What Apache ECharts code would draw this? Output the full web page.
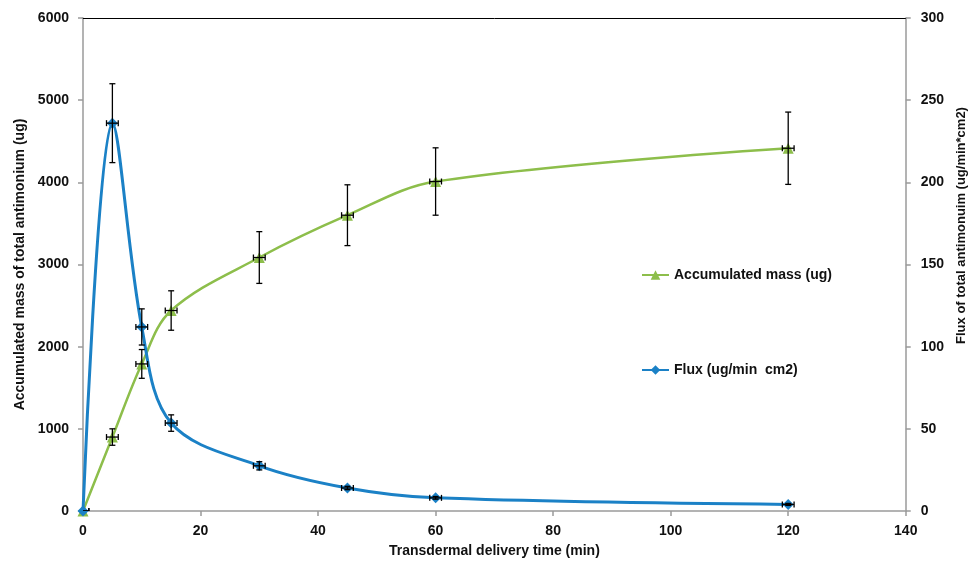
<!DOCTYPE html>
<html>
<head>
<meta charset="utf-8">
<script src="https://cdn.jsdelivr.net/npm/echarts@6/dist/echarts.min.js"></script>
<style>
  html, body { margin: 0; padding: 0; background: #fff; }
  #chart { width: 976px; height: 564px; }
</style>
</head>
<body>
<div id="chart"></div>
<script>
// 时间点 (min)
var times = [0, 5, 10, 15, 30, 45, 60, 120];
var timeErr = [1, 1, 1, 1, 1, 1, 1, 1];
// 累积量 (ug)
var massValues = [0, 900, 1790, 2440, 3085, 3600, 4010, 4415];
var massErr = [0, 100, 175, 240, 315, 370, 410, 440];
// 通量 (ug/min cm2)
var fluxValues = [0, 236, 112, 53.5, 27.5, 14, 8, 4];
var fluxErr = [0, 24, 11, 5, 2.5, 1, 0.8, 0.6];

var fontFam = "'Liberation Sans', Arial, sans-serif";
var green = '#8DBE4B';
var blue = '#1B81C6';

function pairs(ys) {
  return times.map(function (t, i) { return [t, ys[i]]; });
}
function errData(ys, errs) {
  return times.map(function (t, i) { return [t, ys[i], errs[i], timeErr[i]]; });
}

// 误差棒
function renderErr(params, api) {
  var x = api.value(0), y = api.value(1), e = api.value(2), ex = api.value(3);
  var c = api.coord([x, y]);
  var top = api.coord([x, y + e]);
  var bot = api.coord([x, y - e]);
  var lf = api.coord([x - ex, y]);
  var rt = api.coord([x + ex, y]);
  var cap = 3;
  var st = { stroke: '#000', lineWidth: 1.3 };
  var children = [
    { type: 'line', shape: { x1: lf[0], y1: c[1], x2: rt[0], y2: c[1] }, style: st },
    { type: 'line', shape: { x1: lf[0], y1: c[1] - cap, x2: lf[0], y2: c[1] + cap }, style: st },
    { type: 'line', shape: { x1: rt[0], y1: c[1] - cap, x2: rt[0], y2: c[1] + cap }, style: st }
  ];
  if (e > 0) {
    children.push(
      { type: 'line', shape: { x1: c[0], y1: top[1], x2: c[0], y2: bot[1] }, style: st },
      { type: 'line', shape: { x1: c[0] - cap, y1: top[1], x2: c[0] + cap, y2: top[1] }, style: st },
      { type: 'line', shape: { x1: c[0] - cap, y1: bot[1], x2: c[0] + cap, y2: bot[1] }, style: st }
    );
  }
  return { type: 'group', children: children };
}

var chart = echarts.init(document.getElementById('chart'));
var axisLineStyle = { color: '#9A9A9A', width: 1.5 };
var tickLabel = { color: '#111', fontWeight: 'bold', fontSize: 14, fontFamily: fontFam };
function plain(v) { return String(v); }

chart.setOption({
  animation: false,
  textStyle: { fontFamily: fontFam },
  grid: { left: 83, right: 68, top: 18, bottom: 53 },
  legend: {
    orient: 'vertical',
    left: 636,
    top: 263,
    itemGap: 81,
    itemWidth: 27,
    itemHeight: 12,
    textStyle: { color: '#111', fontWeight: 'bold', fontSize: 14, fontFamily: fontFam },
    data: ['Accumulated mass (ug)', 'Flux (ug/min  cm2)']
  },
  xAxis: [{
    type: 'value',
    min: 0, max: 140, interval: 20,
    name: 'Transdermal delivery time (min)',
    nameLocation: 'middle',
    nameGap: 33,
    nameTextStyle: { color: '#111', fontWeight: 'bold', fontSize: 14, fontFamily: fontFam },
    axisLine: { onZero: false, lineStyle: axisLineStyle },
    axisTick: { show: true, inside: false, length: 5, lineStyle: axisLineStyle },
    axisLabel: Object.assign({ margin: 13, formatter: plain }, tickLabel),
    splitLine: { show: false }
  }, {
    type: 'value',
    position: 'top',
    min: 0, max: 140,
    axisLine: { show: true, onZero: false, lineStyle: { color: '#000', width: 1 } },
    axisTick: { show: false },
    axisLabel: { show: false },
    splitLine: { show: false }
  }],
  yAxis: [{
    type: 'value',
    min: 0, max: 6000, interval: 1000,
    name: 'Accumulated mass of total antimonium (ug)',
    nameLocation: 'middle',
    nameGap: 55,
    nameTextStyle: { color: '#111', fontWeight: 'bold', fontSize: 14, fontFamily: fontFam },
    axisLine: { show: true, onZero: false, lineStyle: axisLineStyle },
    axisTick: { show: true, length: 5, lineStyle: axisLineStyle },
    axisLabel: Object.assign({ margin: 14, formatter: plain }, tickLabel),
    splitLine: { show: false }
  }, {
    type: 'value',
    position: 'right',
    min: 0, max: 300, interval: 50,
    name: 'Flux of total antimonuim (ug/min*cm2)',
    nameLocation: 'middle',
    nameGap: 48,
    nameTextStyle: { color: '#111', fontWeight: 'bold', fontSize: 13, fontFamily: fontFam, padding: [0, 0, 0, 78] },
    axisLine: { show: true, onZero: false, lineStyle: axisLineStyle },
    axisTick: { show: true, length: 5, lineStyle: axisLineStyle },
    axisLabel: Object.assign({ margin: 15, formatter: plain }, tickLabel),
    splitLine: { show: false }
  }],
  series: [{
    name: 'Accumulated mass (ug)',
    type: 'line',
    yAxisIndex: 0,
    smooth: 0.35,
    symbol: 'triangle',
    symbolSize: 11,
    lineStyle: { color: green, width: 2.5 },
    itemStyle: { color: green },
    data: pairs(massValues),
    z: 3
  }, {
    name: 'Flux (ug/min  cm2)',
    type: 'line',
    yAxisIndex: 1,
    smooth: 0.35,
    symbol: 'diamond',
    symbolSize: 11,
    lineStyle: { color: blue, width: 3 },
    itemStyle: { color: blue },
    data: pairs(fluxValues),
    z: 4
  }, {
    type: 'custom',
    yAxisIndex: 0,
    renderItem: renderErr,
    clip: true,
    data: errData(massValues, massErr),
    z: 10
  }, {
    type: 'custom',
    yAxisIndex: 1,
    renderItem: renderErr,
    clip: true,
    data: errData(fluxValues, fluxErr),
    z: 10
  }]
});
</script>
</body>
</html>
